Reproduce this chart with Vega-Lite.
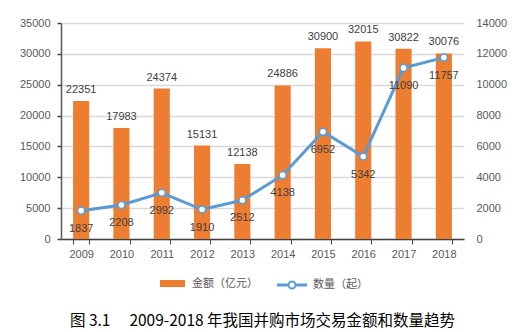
{
  "$schema": "https://vega.github.io/schema/vega-lite/v6.json",
  "width": 403,
  "height": 216,
  "autosize": {"type": "none"},
  "padding": {"left": 61, "top": 23, "right": 60, "bottom": 93},
  "background": "white",
  "config": {
    "view": {"stroke": null},
    "font": "Liberation Sans",
    "axis": {"labelColor": "#595959", "labelFontSize": 11, "labelFont": "Liberation Sans", "titleFontSize": 11}
  },
  "title": {
    "text": "图 3.1\u3000 2009-2018 年我国并购市场交易金额和数量趋势",
    "orient": "bottom",
    "anchor": "middle",
    "font": "Noto Sans CJK SC",
    "fontSize": 15.5,
    "fontWeight": "normal",
    "color": "#000000",
    "offset": 21
  },
  "data": {
    "values": [
      {"year": "2009", "amount": 22351, "count": 1837},
      {"year": "2010", "amount": 17983, "count": 2208},
      {"year": "2011", "amount": 24374, "count": 2992},
      {"year": "2012", "amount": 15131, "count": 1910},
      {"year": "2013", "amount": 12138, "count": 2512},
      {"year": "2014", "amount": 24886, "count": 4138},
      {"year": "2015", "amount": 30900, "count": 6952},
      {"year": "2016", "amount": 32015, "count": 5342},
      {"year": "2017", "amount": 30822, "count": 11090},
      {"year": "2018", "amount": 30076, "count": 11757}
    ]
  },
  "encoding": {
    "x": {
      "field": "year", "type": "ordinal",
      "scale": {"paddingInner": 0.6, "paddingOuter": 0.3},
      "axis": {"title": null, "labelAngle": 0, "tickBand": "extent", "tickSize": 5, "tickColor": "#404040", "domainColor": "#404040", "domainWidth": 1.5, "labelPadding": 4}
    }
  },
  "layer": [
    {
      "mark": {"type": "bar", "color": "#ED7D31"},
      "encoding": {
        "y": {
          "field": "amount", "type": "quantitative",
          "scale": {"domain": [0, 35000], "nice": false},
          "axis": {"title": null, "format": "d", "values": [0, 5000, 10000, 15000, 20000, 25000, 30000, 35000], "grid": true, "gridColor": "#D9D9D9", "gridWidth": 1.5, "domainColor": "#595959", "domainWidth": 1.5, "tickColor": "#404040", "tickSize": 4, "tickWidth": 1.5, "labelPadding": 7}
        },
        "fill": {
          "datum": "金额（亿元）",
          "scale": {"domain": ["金额（亿元）"], "range": ["#ED7D31"]},
          "legend": {"title": null, "orient": "none", "legendX": 98, "legendY": 247, "symbolType": "M-1,-0.28H1V0.28H-1Z", "symbolSize": 625, "labelFont": "Noto Sans CJK SC", "labelFontSize": 11, "labelColor": "#595959", "labelOffset": 6}
        }
      }
    },
    {
      "mark": {"type": "text", "baseline": "alphabetic", "dy": -8, "fontSize": 11, "color": "#404040"},
      "encoding": {
        "y": {"field": "amount", "type": "quantitative", "scale": {"domain": [0, 35000], "nice": false}, "axis": null},
        "text": {"field": "amount", "type": "quantitative", "format": "d"}
      }
    },
    {
      "mark": {"type": "line", "strokeWidth": 3},
      "encoding": {
        "y": {
          "field": "count", "type": "quantitative",
          "scale": {"domain": [0, 14000], "nice": false},
          "axis": {"title": null, "format": "d", "orient": "right", "values": [0, 2000, 4000, 6000, 8000, 10000, 12000, 14000], "grid": false, "domain": false, "ticks": false, "labelPadding": 12}
        },
        "stroke": {
          "datum": "数量（起）",
          "scale": {"domain": ["数量（起）"], "range": ["#5B9BD5"]},
          "legend": {"title": null, "orient": "none", "legendX": 216, "legendY": 247, "symbolType": "M-1,-0.04H-0.25V0.04H-1Z M0.25,-0.04H1V0.04H0.25Z M0.25,0A0.25,0.25 0 1,1 -0.25,0A0.25,0.25 0 1,1 0.25,0Z", "symbolSize": 784, "symbolFillColor": "white", "symbolStrokeWidth": 2, "labelFont": "Noto Sans CJK SC", "labelFontSize": 11, "labelColor": "#595959", "labelOffset": 6}
        }
      }
    },
    {
      "mark": {"type": "point", "shape": "circle", "filled": true, "fill": "white", "stroke": "#5B9BD5", "strokeWidth": 1.5, "size": 50, "opacity": 1},
      "encoding": {
        "y": {"field": "count", "type": "quantitative", "scale": {"domain": [0, 14000], "nice": false}, "axis": null}
      }
    },
    {
      "mark": {"type": "text", "baseline": "middle", "dy": 18, "fontSize": 11, "color": "#404040"},
      "encoding": {
        "y": {"field": "count", "type": "quantitative", "scale": {"domain": [0, 14000], "nice": false}, "axis": null},
        "text": {"field": "count", "type": "quantitative", "format": "d"}
      }
    }
  ],
  "resolve": {"scale": {"y": "independent"}}
}
